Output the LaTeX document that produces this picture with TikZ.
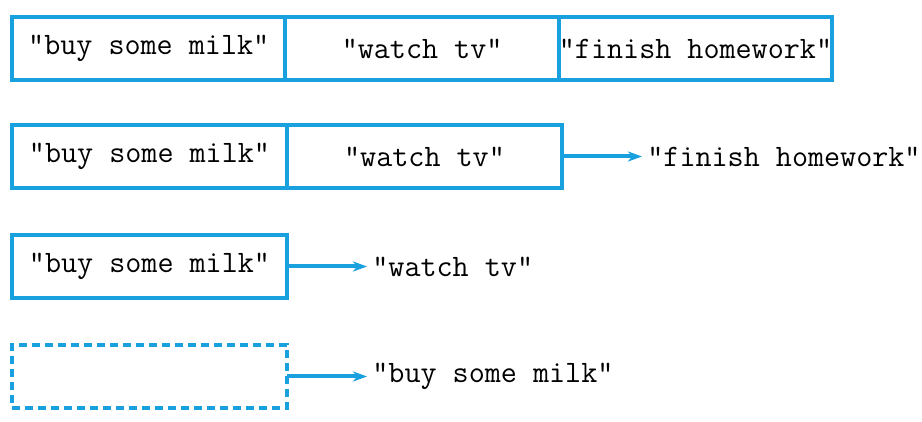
\documentclass[tikz,border=0pt]{standalone}
\usepackage{fontspec}
\usetikzlibrary{positioning,arrows.meta}
\definecolor{listblue}{RGB}{25,160,222}
\tikzset{
  cell/.style={draw=listblue, line width=2pt, minimum width=137.5pt,
    minimum height=31.5pt, inner sep=0pt, outer sep=0pt,
    font=\ttfamily\fontsize{15.6}{17}\selectfont},
  emptycell/.style={cell, dash pattern=on 4pt off 2.5pt},
  item/.style={inner sep=0pt, font=\ttfamily\fontsize{15.6}{17}\selectfont},
  link/.style={-{Stealth[length=7pt,width=5pt,inset=2pt]}, draw=listblue,
    line width=2pt, shorten >=2.5pt}
}
\begin{document}
\begin{tikzpicture}[x=1pt,y=-1pt, node distance=42.5pt]
  \useasboundingbox (0,0) rectangle (461,211);

  % three items
  \node[cell, minimum width=136.7pt, anchor=west] (milkA) at (6,24.25) {"buy some milk"};
  \node[cell, minimum width=136.7pt, right=0pt of milkA] (tvA) {"watch tv"};
  \node[cell, minimum width=136.7pt, right=0pt of tvA] (hwA) {"finish homework"};

  % pop "finish homework"
  \node[cell, anchor=west] (milkB) at (6,78.25) {"buy some milk"};
  \node[cell, right=0pt of milkB] (tvB) {"watch tv"};
  \node[item, right=of tvB] (hwB) {"finish homework"};
  \draw[link] (tvB) -- (hwB);

  % pop "watch tv"
  \node[cell, anchor=west] (milkC) at (6,133.25) {"buy some milk"};
  \node[item, right=of milkC] (tvC) {"watch tv"};
  \draw[link] (milkC) -- (tvC);

  % pop "buy some milk"
  \node[emptycell, anchor=west] (emptyD) at (6,188.25) {};
  \node[item, right=of emptyD] (milkD) {"buy some milk"};
  \draw[link] (emptyD) -- (milkD);
\end{tikzpicture}
\end{document}
